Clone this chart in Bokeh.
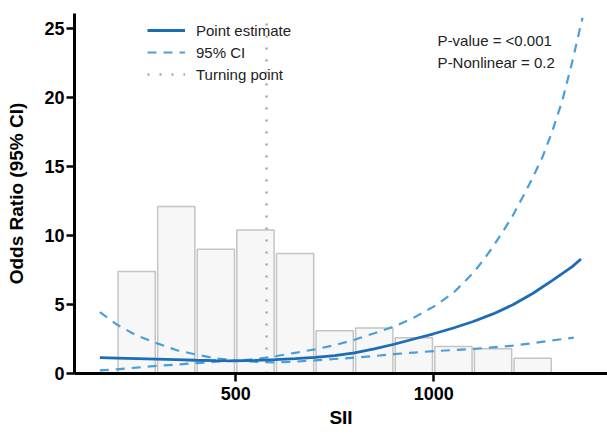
from bokeh.plotting import figure
from bokeh.models import Range1d, FixedTicker, Legend, LegendItem, Label
from bokeh.embed import file_html
from bokeh.resources import INLINE

# ---- data ----
hist_centers = [250, 350, 450, 550, 650, 750, 850, 950, 1050, 1150, 1250]
hist_heights = [7.4, 12.1, 9.0, 10.4, 8.7, 3.1, 3.3, 2.6, 1.96, 1.8, 1.1]

est_x = [157, 200, 250, 300, 350, 400, 450, 500, 550, 600, 650, 700, 750, 800,
         850, 900, 950, 1000, 1050, 1100, 1150, 1200, 1250, 1300, 1350, 1372]
est_y = [1.15, 1.12, 1.08, 1.04, 1.0, 0.96, 0.93, 0.92, 0.95, 1.0, 1.08, 1.17, 1.3, 1.5,
         1.78, 2.12, 2.5, 2.88, 3.3, 3.77, 4.32, 4.98, 5.8, 6.75, 7.75, 8.3]

ci_a_x = [157, 200, 250, 300, 350, 400, 450, 500, 550, 600, 650, 700, 750, 800,
          850, 900, 950, 1000, 1050, 1100, 1150, 1200, 1250, 1300, 1354]
ci_a_y = [4.45, 3.55, 2.75, 2.2, 1.7, 1.38, 1.1, 0.95, 0.85, 0.8, 0.86, 0.95, 1.05, 1.15,
          1.27, 1.4, 1.52, 1.62, 1.7, 1.78, 1.9, 2.02, 2.2, 2.4, 2.6]

ci_b_x = [157, 200, 250, 300, 350, 400, 450, 500, 550, 600, 650, 700, 750, 800,
          850, 900, 950, 1000, 1050, 1100, 1125, 1150, 1175, 1200, 1225, 1250,
          1275, 1300, 1325, 1350, 1376]
ci_b_y = [0.22, 0.3, 0.43, 0.55, 0.65, 0.75, 0.85, 0.93, 1.05, 1.25, 1.5, 1.75, 2.05, 2.45,
          2.92, 3.4, 4.05, 4.85, 5.85, 7.3, 8.2, 9.2, 10.3, 11.45, 12.8, 14.2,
          15.7, 17.6, 19.8, 22.6, 25.8]

turning_point = 578
x_ticks = [500, 1000]
y_ticks = [0, 5, 10, 15, 20, 25]
x_min, x_max = 93, 1439
y_min, y_max = 0, 26.1

FONT = "Liberation Sans"
EST_COLOR = "#1c6db5"
CI_COLOR = "#4a9ed9"

p = figure(width=607, height=434, output_backend="svg", toolbar_location=None,
           x_range=Range1d(x_min, x_max), y_range=Range1d(y_min, y_max))
p.min_border_left = 74
p.min_border_right = 0
p.min_border_top = 13
p.min_border_bottom = 61
p.outline_line_color = None
p.xgrid.visible = False
p.ygrid.visible = False
p.background_fill_color = "white"
p.border_fill_color = "white"

# histogram
p.vbar(x=hist_centers, top=hist_heights, width=94, bottom=0,
       fill_color="#f7f7f7", line_color="#c4c4c4", line_width=1.5)

# turning point line
r_tp = p.line(x=[turning_point, turning_point], y=[y_min, y_max - 0.3],
              line_color="#a8a8a8", line_width=2.5, line_dash="2 10")

# CI lines
r_ci = p.line(x=ci_a_x, y=ci_a_y, line_color=CI_COLOR, line_width=2.2, line_dash="9 7")
p.line(x=ci_b_x, y=ci_b_y, line_color=CI_COLOR, line_width=2.2, line_dash="9 7")

# point estimate
r_est = p.line(x=est_x, y=est_y, line_color=EST_COLOR, line_width=2.8)

# axes
for ax in (p.xaxis[0], p.yaxis[0]):
    ax.axis_line_width = 3
    ax.axis_line_color = "black"
    ax.major_tick_line_width = 2.5
    ax.major_tick_line_color = "black"
    ax.major_tick_out = 8
    ax.major_tick_in = 0
    ax.minor_tick_line_color = None
    ax.major_label_text_font = FONT
    ax.major_label_text_font_style = "bold"
    ax.major_label_text_font_size = "18px"
    ax.major_label_text_color = "black"
    ax.axis_label_text_font = FONT
    ax.axis_label_text_font_style = "bold"
    ax.axis_label_text_font_size = "19px"
    ax.axis_label_text_color = "black"

p.xaxis.ticker = FixedTicker(ticks=x_ticks)
p.yaxis.ticker = FixedTicker(ticks=y_ticks)
p.xaxis.axis_label = "SII"
p.yaxis.axis_label = "Odds Ratio (95% CI)"
p.xaxis.major_label_standoff = 5
p.yaxis.major_label_standoff = 2
p.xaxis.axis_label_standoff = 4
p.yaxis.axis_label_standoff = 14

legend = Legend(items=[
    LegendItem(label="Point estimate", renderers=[r_est]),
    LegendItem(label="95% CI", renderers=[r_ci]),
    LegendItem(label="Turning point", renderers=[r_tp]),
], location=(73, 289))
legend.border_line_color = None
legend.background_fill_alpha = 0
legend.padding = 0
legend.margin = 0
legend.glyph_width = 38
legend.glyph_height = 20
legend.label_height = 20
legend.spacing = 2
legend.label_standoff = 11
legend.label_text_font = FONT
legend.label_text_font_size = "15px"
legend.label_text_color = "#222222"
p.add_layout(legend)

for i, txt in enumerate(["P-value = <0.001", "P-Nonlinear = 0.2"]):
    p.add_layout(Label(x=1010, y=24.15 - i * 1.62, text=txt, text_font=FONT,
                       text_font_size="15px", text_color="#222222",
                       text_baseline="middle", text_align="left"))

open("out.html", "w").write(file_html(p, INLINE))
